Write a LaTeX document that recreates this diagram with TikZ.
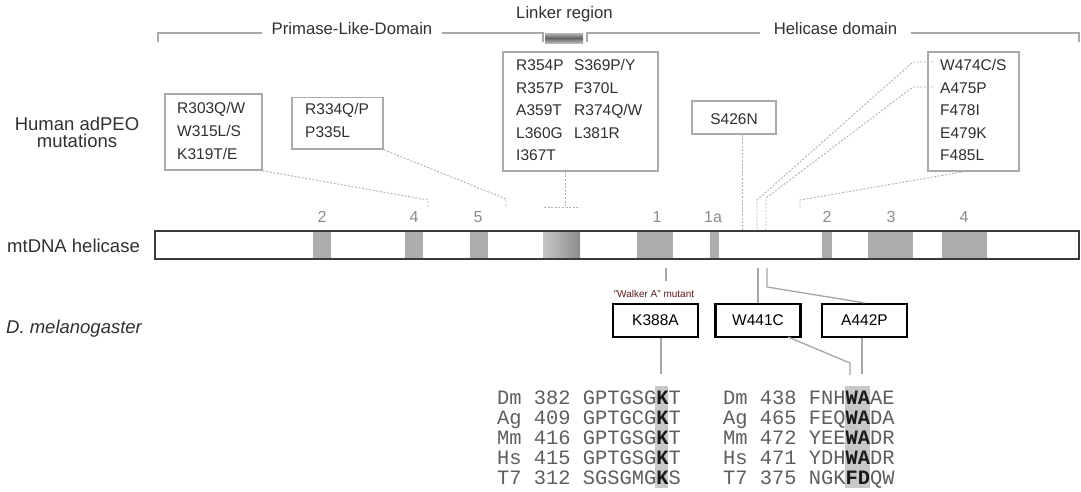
\documentclass[tikz,border=0pt]{standalone}
\usepackage{fontspec}
\setmainfont{Liberation Sans}
\newfontfamily\seqfont{Liberation Mono}
\definecolor{boxgray}{HTML}{AAAAAA}
\definecolor{dotgray}{HTML}{B0B0B0}
\definecolor{solidgray}{HTML}{A5A5A5}
\definecolor{blockgray}{HTML}{ADADAD}
\definecolor{textdark}{HTML}{303030}
\definecolor{numgray}{HTML}{8C8C8C}
\definecolor{walker}{HTML}{5C1A1A}
\definecolor{seqgray}{HTML}{5E5E5E}
\definecolor{seqbold}{HTML}{1A1A1A}
\definecolor{hlgray}{HTML}{C8C8C8}
\definecolor{bargray}{HTML}{3A3A3A}
\begin{document}
\begin{tikzpicture}[x=1pt,y=-1pt,
  bracket/.style={draw=boxgray,line width=1.4pt},
  domlabel/.style={anchor=base,inner sep=0,text=textdark,font=\fontsize{16.7}{20}\selectfont},
  rowlabel/.style={anchor=base west,inner sep=0,text=textdark,font=\fontsize{18.5}{22}\selectfont},
  mutbox/.style={draw=boxgray,line width=1.5pt,inner sep=0,fill=white},
  mut/.style={anchor=base west,inner sep=0,text=textdark,font=\fontsize{15.5}{18}\selectfont},
  flybox/.style={draw=black,line width=2.2pt,inner sep=0,minimum width=85pt,minimum height=33pt,font=\fontsize{15.5}{18}\selectfont},
  dotline/.style={draw=dotgray,line width=0.9pt,dash pattern=on 2pt off 1.6pt},
  solidline/.style={draw=solidgray,line width=1.3pt},
  motif/.style={fill=blockgray,draw=none},
  motifnum/.style={anchor=base,inner sep=0,text=numgray,font=\fontsize{16}{18}\selectfont},
  seq/.style={anchor=base west,inner sep=0,text=seqgray,font=\seqfont\fontsize{20.4}{22}\selectfont},
  hl/.style={fill=hlgray,draw=none}]
\newcommand{\bl}[1]{\textcolor{seqbold}{\textbf{#1}}}
\useasboundingbox (0,0) rectangle (1081,491);

% ---------- domain brackets ----------
\draw[bracket] (158,42) -- (158,33) -- (262,33);
\node[domlabel] (pld) at (352,34) {Primase-Like-Domain};
\draw[bracket] (442,33) -- (543,33) -- (543,42);
\shade[top color=black!28,bottom color=black!28,middle color=black!60] (545,33) rectangle (583,43);
\draw[bracket] (587,42) -- (587,33) -- (760,33);
\node[domlabel] (hd) at (835.5,34) {Helicase domain};
\draw[bracket] (911,33) -- (1079,33) -- (1079,42);
\node[domlabel] (lr) at (564.5,18.5) {Linker region};

% ---------- row labels ----------
\node[anchor=base,inner sep=0,text=textdark,font=\fontsize{18.5}{22}\selectfont] (hum1) at (77,130) {Human adPEO};
\node[anchor=base,inner sep=0,text=textdark,font=\fontsize{18.5}{22}\selectfont] (hum2) at (77,147) {mutations};
\node[rowlabel] (mtl) at (7,252) {mtDNA helicase};
\node[rowlabel] (dml) at (6,333) {\itshape D. melanogaster};

% ---------- mutation boxes ----------
\node[mutbox,minimum width=97pt,minimum height=76pt] (box1) at (213.5,132) {};
\node[mut] (m303) at (177,113.5) {R303Q/W};
\node[mut] (m315) at (177,136.5) {W315L/S};
\node[mut] (m319) at (177,159.5) {K319T/E};

\node[mutbox,minimum width=91pt,minimum height=51.5pt] (box2) at (337.5,123.25) {};
\node[mut] (m334) at (305,114) {R334Q/P};
\node[mut] (m335) at (305,137) {P335L};

\node[mutbox,minimum width=155pt,minimum height=119pt] (lbox) at (580.5,111.5) {};
\node[mut] (m354) at (516,70.5) {R354P};
\node[mut] (m357) at (516,93) {R357P};
\node[mut] (m359) at (516,115.5) {A359T};
\node[mut] (m360) at (516,138) {L360G};
\node[mut] (m367) at (516,160.5) {I367T};
\node[mut] (m369) at (574,70.5) {S369P/Y};
\node[mut] (m370) at (574,93) {F370L};
\node[mut] (m374) at (574,115.5) {R374Q/W};
\node[mut] (m381) at (574,138) {L381R};

\node[mutbox,minimum width=84pt,minimum height=33pt] (sbox) at (734,117.5) {};
\node[mut,anchor=base] (m426) at (734,124) {S426N};

\node[mutbox,minimum width=91pt,minimum height=119pt] (rbox) at (973.5,111.5) {};
\node[mut] (m474) at (940,70.5) {W474C/S};
\node[mut] (m475) at (940,93) {A475P};
\node[mut] (m478) at (940,115.5) {F478I};
\node[mut] (m479) at (940,138) {E479K};
\node[mut] (m485) at (940,160.5) {F485L};

% ---------- dotted connectors above the bar ----------
\coordinate (c1a) at (428,200); \coordinate (c1b) at (428,208);
\draw[dotline] (box1.south east) -- (c1a) -- (c1b);
\coordinate (c2a) at (506,199); \coordinate (c2b) at (506,208);
\draw[dotline] (box2.south east) -- (c2a) -- (c2b);
\coordinate (lkfoot) at (565,207); \coordinate (lkL) at (544,207); \coordinate (lkR) at (580,207);
\draw[dotline] (lbox.south -| lkfoot) -- (lkfoot);
\draw[dotline] (lkL) -- (lkR);
\coordinate (sfoot) at (742,231);
\draw[dotline] (sbox.south -| sfoot) -- (sfoot);
\coordinate (w0) at (933,62); \coordinate (w1) at (913,62); \coordinate (w2) at (757,200); \coordinate (w3) at (757,231);
\draw[dotline] (w0) -- (w1) -- (w2) -- (w3);
\coordinate (a0) at (933,87); \coordinate (a1) at (913,87); \coordinate (a2) at (766,198); \coordinate (a3) at (766,231);
\draw[dotline] (a0) -- (a1) -- (a2) -- (a3);
\coordinate (r0) at (968,171); \coordinate (r1) at (800,200); \coordinate (r2) at (800,208);
\draw[dotline] (r0) -- (r1) -- (r2);

% ---------- helicase bar ----------
\fill[motif] (313,231) rectangle (331,259);
\fill[motif] (405,231) rectangle (423,259);
\fill[motif] (470,231) rectangle (488,259);
\shade[left color=black!22,right color=black!45] (543,231) rectangle (580,259);
\fill[motif] (637,231) rectangle (673,259);
\fill[motif] (710,231) rectangle (719,259);
\fill[motif] (822,231) rectangle (832,259);
\fill[motif] (868,231) rectangle (913,259);
\fill[motif] (942,231) rectangle (987,259);
\node[draw=bargray,line width=2pt,inner sep=0,minimum width=924pt,minimum height=28pt] (bar) at (617,245) {};
\node[motifnum] (n2a) at (322,222) {2};
\node[motifnum] (n4a) at (414,222) {4};
\node[motifnum] (n5a) at (478,222) {5};
\node[motifnum] (n1) at (657,222) {1};
\node[motifnum] (n1a) at (713,222) {1a};
\node[motifnum] (n2b) at (827,222) {2};
\node[motifnum] (n3b) at (891,222) {3};
\node[motifnum] (n4b) at (964,222) {4};

% ---------- Drosophila mutants ----------
\node[anchor=base,inner sep=0,text=walker,font=\fontsize{10}{12}\selectfont] (wlk) at (654,297) {"Walker A" mutant};
\node[flybox] (fK) at (655.5,320.5) {K388A};
\node[flybox] (fW) at (758,320.5) {W441C};
\node[flybox] (fA) at (864.5,320.5) {A442P};

\coordinate (wk0) at (666,268); \coordinate (wk1) at (666,281);
\draw[solidline] (wk0) -- (wk1);
\coordinate (ws0) at (758,268);
\draw[solidline] (ws0) -- (fW.north);
\coordinate (as0) at (767,268); \coordinate (as1) at (767,287);
\draw[solidline] (as0) -- (as1) -- (fA.north);

\coordinate (kfoot) at (661,374);
\draw[solidline] (fK.south -| kfoot) -- (kfoot);
\coordinate (wst) at (788,337); \coordinate (wmid) at (850,363); \coordinate (wfoot) at (850,375);
\draw[solidline] (wst) -- (wmid) -- (wfoot);
\coordinate (afoot) at (862,374);
\draw[solidline] (fA.south -| afoot) -- (afoot);

% ---------- alignments ----------
\fill[hl] (655,386) rectangle (668,488);
\fill[hl] (845,386) rectangle (870,488);
\node[seq] (s1) at (497,404.5) {Dm 382 GPTGSG\bl{K}T};
\node[seq] (s2) at (497,424.5) {Ag 409 GPTGCG\bl{K}T};
\node[seq] (s3) at (497,444.5) {Mm 416 GPTGSG\bl{K}T};
\node[seq] (s4) at (497,464.5) {Hs 415 GPTGSG\bl{K}T};
\node[seq] (s5) at (497,484.5) {T7 312 SGSGMG\bl{K}S};
\node[seq] (t1) at (723,404.5) {Dm 438 FNH\bl{WA}AE};
\node[seq] (t2) at (723,424.5) {Ag 465 FEQ\bl{WA}DA};
\node[seq] (t3) at (723,444.5) {Mm 472 YEE\bl{WA}DR};
\node[seq] (t4) at (723,464.5) {Hs 471 YDH\bl{WA}DR};
\node[seq] (t5) at (723,484.5) {T7 375 NGK\bl{FD}QW};
\end{tikzpicture}
\end{document}
